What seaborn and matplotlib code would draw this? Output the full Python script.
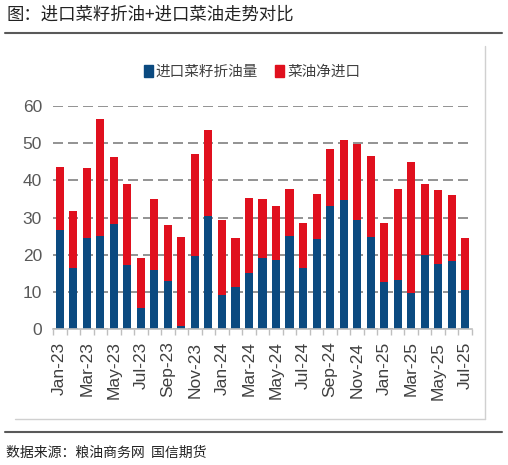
import matplotlib
matplotlib.use("Agg")
import matplotlib.pyplot as plt
import seaborn as sns
import pandas as pd
import numpy as np
from matplotlib.lines import Line2D
from matplotlib.patches import Rectangle

months = ["Jan-23","Feb-23","Mar-23","Apr-23","May-23","Jun-23","Jul-23","Aug-23","Sep-23","Oct-23","Nov-23","Dec-23",
          "Jan-24","Feb-24","Mar-24","Apr-24","May-24","Jun-24","Jul-24","Aug-24","Sep-24","Oct-24","Nov-24","Dec-24",
          "Jan-25","Feb-25","Mar-25","Apr-25","May-25","Jun-25","Jul-25"]
seed_oil = [26.7,16.5,24.5,24.9,28.3,17.1,5.6,16.0,12.9,0.9,19.7,30.5,
            9.1,11.3,15.1,19.2,18.5,25.0,16.5,24.3,33.2,34.8,29.2,24.8,
            12.7,13.3,9.8,19.9,17.5,18.3,10.6]
net_import = [17.0,15.2,18.8,31.5,17.9,21.9,13.4,19.1,15.0,23.9,27.4,23.0,
              20.3,13.3,20.2,15.9,14.5,12.7,11.9,12.1,15.2,16.1,20.7,21.8,
              15.9,24.3,35.1,19.0,19.8,17.7,13.8]
series_names = ["进口菜籽折油量", "菜油净进口"]
title = "图：进口菜籽折油+进口菜油走势对比"
source = "数据来源：粮油商务网  国信期货"

blue = "#0B4A80"
red = "#E0101E"

df = pd.DataFrame({"month": months, "seed": seed_oil, "net": net_import})
df["total"] = df["seed"] + df["net"]

sns.set_theme(style="white")
plt.rcParams["font.family"] = ["Liberation Sans", "Noto Sans CJK SC", "DejaVu Sans"]

fig = plt.figure(figsize=(5.08, 4.65), dpi=100)
ax = fig.add_axes([53/508, 1-329/465, (472-53)/508, (329-106)/465])

sns.barplot(data=df, x="month", y="total", color=red, width=0.6, ax=ax, saturation=1, linewidth=0)
sns.barplot(data=df, x="month", y="seed", color=blue, width=0.6, ax=ax, saturation=1, linewidth=0)

ax.set_ylim(0, 60)
ax.set_xlim(-0.5, len(months) - 0.5)
ax.set_yticks(range(0, 61, 10))
ax.yaxis.grid(True, linestyle=(0, (6, 3)), color="#808080", linewidth=1.2)
ax.set_axisbelow(True)
ax.set_xlabel("")
ax.set_ylabel("")
ax.set_xticks(range(0, len(months), 2))
ax.set_xticklabels(months[::2], rotation=90, fontsize=12.5, color="#404040")
ax.set_xticks(np.arange(-0.5, len(months), 1), minor=True)
ax.tick_params(axis="x", which="major", length=0, pad=9)
ax.tick_params(axis="x", which="minor", length=4, color="#bfbfbf", width=1, bottom=True)
ax.tick_params(axis="y", length=0, labelsize=12.5, labelcolor="#595959", pad=8)
for s in ["top", "right", "left"]:
    ax.spines[s].set_visible(False)
ax.spines["bottom"].set_color("#bfbfbf")
ax.spines["bottom"].set_linewidth(1.2)

# legend
handles = [Rectangle((0, 0), 1, 1, color=blue), Rectangle((0, 0), 1, 1, color=red)]
fig.legend(handles, series_names, loc="center", bbox_to_anchor=(252/508, 1-72/465), ncol=2,
           frameon=False, prop={"family": ["Noto Sans CJK SC"], "size": 10.5},
           handlelength=0.6, handleheight=0.9, handletextpad=0.2, columnspacing=1.2,
           labelcolor="#404040")

# frame lines
fig.add_artist(Line2D([5/508, 502/508], [1-33/465, 1-33/465], color="#595959", linewidth=1.5))
fig.add_artist(Line2D([5/508, 502/508], [1-432/465, 1-432/465], color="#595959", linewidth=1.5))
fig.add_artist(Line2D([485/508, 485/508], [1-46/465, 1-419/465], color="#d0d0d0", linewidth=1))
fig.add_artist(Line2D([15/508, 485/508], [1-419/465, 1-419/465], color="#d0d0d0", linewidth=1))

fig.text(6/508, 1-15/465, title, fontsize=12.5, va="center", ha="left",
         family=["Noto Sans CJK SC"], color="#222222")
fig.text(6/508, 1-453/465, source, fontsize=10, va="center", ha="left",
         family=["Noto Sans CJK SC"], color="#222222")

fig.savefig("out.png", dpi=100)
